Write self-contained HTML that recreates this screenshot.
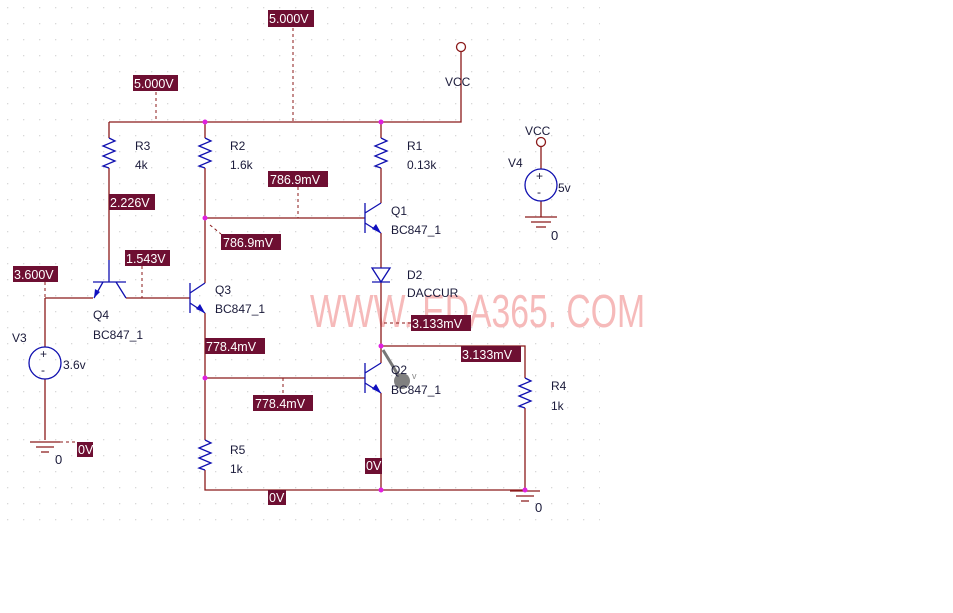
<!DOCTYPE html>
<html><head><meta charset="utf-8"><style>
html,body{margin:0;padding:0;background:#fff;}
svg{display:block;font-family:"Liberation Sans",sans-serif;}
.w{stroke:#8b1a1a;stroke-width:1.3;fill:none;}
.c{stroke:#1010b0;stroke-width:1.3;fill:none;}
.d{stroke:#8b1a1a;stroke-width:1;stroke-dasharray:3,3;fill:none;}
.t{font-size:12px;fill:#1a1a3a;}
.lb{fill:#6e0f32;}
.lt{font-size:12.5px;fill:#fff;}
.j{fill:#e020e0;}
</style></head><body>
<svg width="953" height="613" viewBox="0 0 953 613">
<defs><pattern id="g" width="16" height="16" patternUnits="userSpaceOnUse"><rect x="7" y="7" width="1.3" height="1.3" fill="#d8d8d8"/></pattern></defs>
<rect x="0" y="0" width="600" height="530" fill="url(#g)"/>
<text x="310" y="327" font-size="46" fill="#f6baba" font-family="Liberation Sans,sans-serif" textLength="335" lengthAdjust="spacingAndGlyphs">WWW. EDA365. COM</text>

<!-- wires -->
<path class="w" d="M109,122H461V52M109,122V138M109,168V260M205,122V138M205,168V283M381,122V138M381,168V203M205,218H365M45,298H93M126,298H190M205,313V440M205,470V490H525V408M525,378V346H381M205,378H365M381,233V268M381,282V363M381,393V490M45,298V347M45,379V440M541,147V169M541,201V217"/>
<circle cx="461" cy="47" r="4.5" fill="none" stroke="#8b1a1a" stroke-width="1.3"/>
<circle cx="541" cy="142" r="4.5" fill="none" stroke="#8b1a1a" stroke-width="1.3"/>
<!-- resistors -->
<g class="c">
<path d="M109,138l6,3l-12,5l12,5l-12,5l12,5l-12,5l6,2"/>
<path d="M205,138l6,3l-12,5l12,5l-12,5l12,5l-12,5l6,2"/>
<path d="M381,138l6,3l-12,5l12,5l-12,5l12,5l-12,5l6,2"/>
<path d="M525,378l6,3l-12,5l12,5l-12,5l12,5l-12,5l6,2"/>
<path d="M205,440l6,3l-12,5l12,5l-12,5l12,5l-12,5l6,2"/>
<path d="M365,203V233M365,213L381,203M365,223L381,233"/>
<path d="M365,363V393M365,373L381,363M365,383L381,393"/>
<path d="M190,283V313M190,293L205,283M190,303L205,313"/>
<path d="M109,260V282M93,282H126M103,282L94,298M116,282L126,298"/>
<path d="M372,268H390L381,282ZM372,282H390"/>
<circle cx="45" cy="363" r="16"/>
<circle cx="541" cy="185" r="16"/>
</g>
<g fill="#1010c0">
<path d="M381,233l-9,-4l4,-5z"/>
<path d="M381,393l-9,-4l4,-5z"/>
<path d="M205,313l-9,-4l4,-5z"/>
<path d="M94,298l1,-9l5,3z"/>
</g>
<g class="t" font-size="13">
<text x="40" y="358" font-size="12">+</text><text x="41" y="374" font-size="12">-</text>
<text x="536" y="180" font-size="12">+</text><text x="537" y="196" font-size="12">-</text>
</g>
<g stroke="#8b1a1a" stroke-width="1.3">
<path d="M30,442H60M36,447H54M41,452H49"/>
<path d="M510,491H540M516,496H534M521,501H529"/>
<path d="M525,217H557M531,222H551M536,227H546"/>
</g>
<path class="d" d="M293,28V122M156,92V122M298,187V218M210,225L221,234M45,282V298M142,266V298M283,378V395M384,323H411M60,442H77"/>
<g class="j"><circle cx="205" cy="122" r="2.5"/><circle cx="381" cy="122" r="2.5"/><circle cx="205" cy="218" r="2.5"/><circle cx="205" cy="378" r="2.5"/><circle cx="381" cy="346" r="2.5"/><circle cx="381" cy="490" r="2.5"/><circle cx="525" cy="490" r="2.5"/></g>
<path d="M383,350L400,378" stroke="#777" stroke-width="3"/>
<circle cx="402" cy="381" r="8" fill="#808080"/>
<text x="412" y="379" font-size="9" fill="#888">v</text>
<g>
<rect class="lb" x="268" y="10" width="46" height="17"/><text class="lt" x="269" y="23">5.000V</text>
<rect class="lb" x="133" y="75" width="45" height="16"/><text class="lt" x="134" y="88">5.000V</text>
<rect class="lb" x="109" y="194" width="46" height="16"/><text class="lt" x="110" y="207">2.226V</text>
<rect class="lb" x="268" y="171" width="60" height="16"/><text class="lt" x="270" y="184">786.9mV</text>
<rect class="lb" x="221" y="234" width="60" height="16"/><text class="lt" x="223" y="247">786.9mV</text>
<rect class="lb" x="125" y="250" width="45" height="16"/><text class="lt" x="126" y="263">1.543V</text>
<rect class="lb" x="13" y="266" width="45" height="16"/><text class="lt" x="14" y="279">3.600V</text>
<rect class="lb" x="205" y="338" width="60" height="16"/><text class="lt" x="206" y="351">778.4mV</text>
<rect class="lb" x="253" y="395" width="60" height="16"/><text class="lt" x="255" y="408">778.4mV</text>
<rect class="lb" x="411" y="315" width="60" height="16"/><text class="lt" x="412" y="328">3.133mV</text>
<rect class="lb" x="461" y="346" width="60" height="16"/><text class="lt" x="462" y="359">3.133mV</text>
<rect class="lb" x="77" y="442" width="16" height="15"/><text class="lt" x="78" y="454">0V</text>
<rect class="lb" x="365" y="458" width="17" height="16"/><text class="lt" x="366" y="470">0V</text>
<rect class="lb" x="268" y="490" width="18" height="15"/><text class="lt" x="269" y="502">0V</text>
</g>
<g class="t">
<text x="445" y="86">VCC</text>
<text x="135" y="150">R3</text><text x="135" y="169">4k</text>
<text x="230" y="150">R2</text><text x="230" y="169">1.6k</text>
<text x="407" y="150">R1</text><text x="407" y="169">0.13k</text>
<text x="391" y="215">Q1</text><text x="391" y="234">BC847_1</text>
<text x="407" y="279">D2</text><text x="407" y="297">DACCUR</text>
<text x="215" y="294">Q3</text><text x="215" y="313">BC847_1</text>
<text x="93" y="319">Q4</text><text x="93" y="339">BC847_1</text>
<text x="12" y="342">V3</text><text x="63" y="369">3.6v</text>
<text x="55" y="464" font-size="13">0</text>
<text x="391" y="374">Q2</text><text x="391" y="394">BC847_1</text>
<text x="551" y="390">R4</text><text x="551" y="410">1k</text>
<text x="230" y="454">R5</text><text x="230" y="473">1k</text>
<text x="535" y="512" font-size="13">0</text>
<text x="525" y="135">VCC</text><text x="508" y="167">V4</text><text x="558" y="192">5v</text>
<text x="551" y="240" font-size="13">0</text>
</g>
</svg>
</body></html>
